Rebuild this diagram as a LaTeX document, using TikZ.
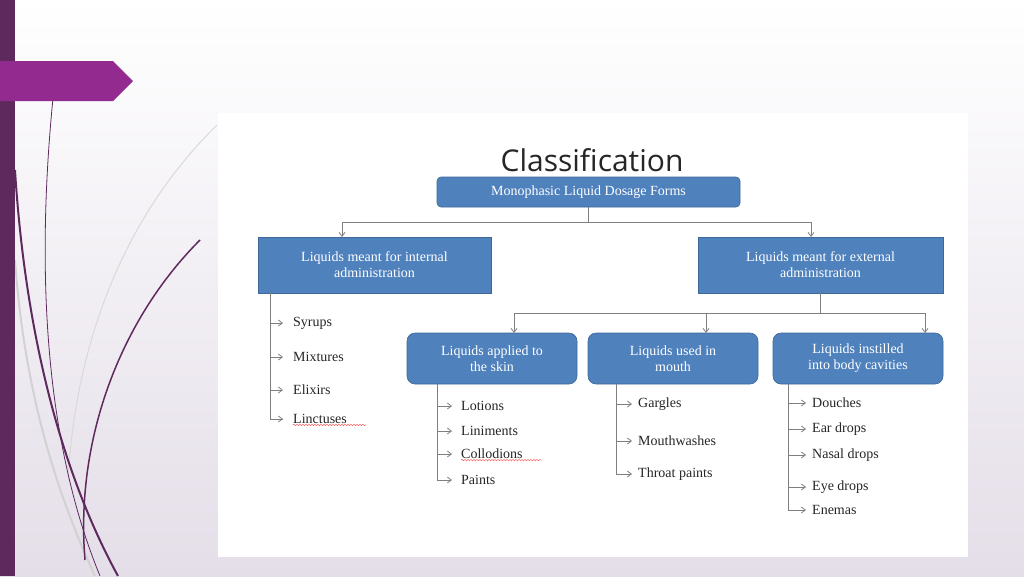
\documentclass[tikz,border=0pt]{standalone}
\usepackage{fontspec}
\setmainfont{Liberation Serif}
\newfontfamily\titlefont{Open Sans}
\usetikzlibrary{arrows.meta,decorations.pathmorphing}
\definecolor{boxblue}{HTML}{4F81BD}
\definecolor{barpurple}{HTML}{5E2A5E}
\definecolor{tabpurple}{HTML}{922A8F}
\definecolor{linegray}{HTML}{7F7F7F}
\definecolor{bgbot}{HTML}{E4DEE8}
\begin{document}
\begin{tikzpicture}[x=1pt,y=-1pt,
  bluebox/.style={draw=boxblue!80!black,line width=0.6pt,fill=boxblue,rounded corners=#1,text=white,font=\fontsize{14}{16}\selectfont,align=center,inner sep=0pt},
  bluebox/.default=4pt,
  conn/.style={draw=linegray,line width=0.8pt},
  arr/.style={conn,-{Straight Barb[length=4pt,width=6pt]}},
  item/.style={anchor=west,font=\fontsize{14}{16}\selectfont,text=black!85,inner sep=0pt},
  wavy/.style={draw=red!70,line width=0.4pt,decorate,decoration={snake,amplitude=0.8pt,segment length=3pt}},
  curve/.style={draw=barpurple,line width=#1},
  curve/.default=1.5pt]
\useasboundingbox (0,0) rectangle (1024,576);
\shade[top color=white,bottom color=bgbot] (0,0) rectangle (1024,576);
% decorations
\draw[draw=gray!30,line width=1pt] (217,125) .. controls (120,220) and (75,350) .. (68,480);
\draw[draw=gray!35,line width=2pt] (15,260) .. controls (25,400) and (60,500) .. (95,576);
\draw[curve=0.8pt] (53,98) .. controls (38,250) and (40,430) .. (100,576);
\draw[curve=2pt] (15,170) .. controls (25,330) and (60,470) .. (118,576);
\draw[curve=1.5pt] (200,240) .. controls (120,320) and (75,440) .. (85,560);
\fill[barpurple] (0,0) rectangle (15,576);
\fill[tabpurple] (0,61) -- (113,61) -- (133,81) -- (113,101) -- (0,101) -- cycle;
% panel
\fill[white] (218,113) rectangle (968,557);
\node[font=\titlefont\fontsize{30}{32}\selectfont,text=black!85] (title) at (592,160) {Classification};
% boxes
\node[bluebox,minimum width=303pt,minimum height=30pt] (root) at (588.5,192) {Monophasic Liquid Dosage Forms};
\node[bluebox=0pt,minimum width=233pt,minimum height=56pt] (int) at (374.5,265) {Liquids meant for internal\\administration};
\node[bluebox=0pt,minimum width=245pt,minimum height=56pt] (ext) at (820.5,265) {Liquids meant for external\\administration};
\node[bluebox=8pt,minimum width=170pt,minimum height=51pt] (skin) at (492,358.5) {Liquids applied to\\the skin};
\node[bluebox=8pt,minimum width=170pt,minimum height=51pt] (mouth) at (673,358.5) {Liquids used in\\mouth};
\node[bluebox=8pt,minimum width=170pt,minimum height=51pt] (cav) at (858,358.5) {Liquids instilled\\into body cavities};
% connectors
\coordinate (j1) at (588.5,222);
\draw[conn] (root.south) -- (j1);
\draw[arr] (j1) -| (342,237) coordinate (a1);
\draw[arr] (j1) -| (811,237) coordinate (a2);
\coordinate (j2) at (820.5,313);
\draw[conn] (ext.south) -- (j2);
\draw[arr] (j2) -| (514,333);
\draw[arr] (j2) -- (706,313) -- (706,333);
\draw[arr] (j2) -| (925,333);
% lists
\foreach \t/\y/\n in {Syrups/323/i1,Mixtures/357/i2,Elixirs/390/i3,Linctuses/419/i4}
  {\node[item] (\n) at (293,\y) {\t};}
\draw[conn] (int.south -| 270,0) |- (283,419);
\foreach \y in {323,357,390} \draw[arr] (270,\y) -- (283,\y);
\draw[arr] (276,419) -- (283,419);
\draw[wavy] (i4.south west) ++(0,1) -- ++(73,0);
\foreach \t/\y/\n in {Lotions/406/s1,Liniments/431/s2,Collodions/454/s3,Paints/480/s4}
  {\node[item] (\n) at (461,\y) {\t};}
\draw[conn] (skin.south -| 437,0) |- (450,480);
\foreach \y in {406,431,454} \draw[arr] (437,\y) -- (452,\y);
\draw[arr] (445,480) -- (452,480);
\draw[wavy] (s3.south west) ++(0,1) -- ++(80,0);
\foreach \t/\y/\n in {Gargles/404/m1,Mouthwashes/441/m2,Throat paints/474/m3}
  {\node[item] (\n) at (638,\y) {\t};}
\draw[conn] (mouth.south -| 616,0) |- (628,474);
\foreach \y in {404,441} \draw[arr] (616,\y) -- (632,\y);
\draw[arr] (624,474) -- (632,474);
\foreach \t/\y/\n in {Douches/403/c1,Ear drops/429/c2,Nasal drops/455/c3,Eye drops/487/c4,Enemas/510/c5}
  {\node[item] (\n) at (812,\y) {\t};}
\draw[conn] (cav.south -| 788,0) |- (800,510);
\foreach \y in {403,429,455,487} \draw[arr] (788,\y) -- (806,\y);
\draw[arr] (798,510) -- (806,510);
\end{tikzpicture}
\end{document}
